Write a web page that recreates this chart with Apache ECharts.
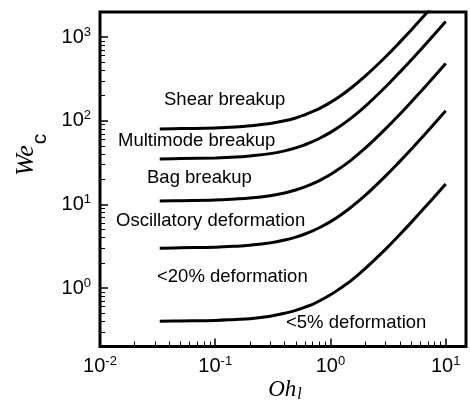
<!DOCTYPE html>
<html>
<head>
<meta charset="utf-8">
<script src="https://cdn.jsdelivr.net/npm/echarts@6/dist/echarts.min.js"></script>
<style>
  html, body { margin: 0; padding: 0; background: #fff; }
  #chart { width: 470px; height: 402px; }
</style>
</head>
<body>
<div id="chart"></div>
<script>
// Oh_l values (x) and critical Weber numbers
const ohValues = [0.033, 0.05, 0.1, 0.15, 0.2, 0.3, 0.4, 0.5, 0.6, 0.7, 0.8, 1, 1.2, 1.5, 2, 3, 4, 5, 7, 10];
const shearWe = [80, 80.7, 82, 84.2, 87, 93, 100, 108, 118, 129, 140, 166, 195, 245, 342, 580, 872, 1210, 2020, 3510];
const multimodeWe = [35, 35.3, 36, 36.8, 38, 40.5, 43.7, 47.4, 51.7, 56.3, 61.4, 72.7, 85.5, 107, 149, 254, 382, 530, 882, 1537];
const bagWe = [11, 11.1, 11.3, 11.6, 11.9, 12.7, 13.7, 14.9, 16.2, 17.7, 19.3, 22.8, 26.9, 33.7, 47, 80, 120, 167, 277, 483];
const oscillatoryWe = [3, 3.03, 3.08, 3.16, 3.25, 3.47, 3.75, 4.07, 4.43, 4.83, 5.26, 6.23, 7.33, 9.2, 12.8, 21.8, 32.7, 45.4, 75.6, 132];
const deform5We = [0.4, 0.404, 0.41, 0.421, 0.43, 0.46, 0.5, 0.54, 0.59, 0.64, 0.7, 0.83, 0.98, 1.22, 1.71, 2.9, 4.36, 6.06, 10.1, 17.6];

// minor tick positions on the log axes
const minorX = [0.02, 0.03, 0.04, 0.05, 0.06, 0.07, 0.08, 0.09,
  0.2, 0.3, 0.4, 0.5, 0.6, 0.7, 0.8, 0.9,
  2, 3, 4, 5, 6, 7, 8, 9];
const minorY = [0.3, 0.4, 0.5, 0.6, 0.7, 0.8, 0.9,
  2, 3, 4, 5, 6, 7, 8, 9,
  20, 30, 40, 50, 60, 70, 80, 90,
  200, 300, 400, 500, 600, 700, 800, 900];

const xMin = 0.01, xMax = 15;
const yMin = 0.2, yMax = 2000;

const regionLabels = [
  { text: 'Shear breakup', x: 164, y: 100 },
  { text: 'Multimode breakup', x: 118, y: 141 },
  { text: 'Bag breakup', x: 147, y: 178 },
  { text: 'Oscillatory deformation', x: 116, y: 221 },
  { text: '<20% deformation', x: 157, y: 277 },
  { text: '<5% deformation', x: 286, y: 323 }
];

const sans = 'Liberation Sans, Arial, Helvetica, sans-serif';
const serif = 'Liberation Serif, Times New Roman, serif';

const powLabel = v => {
  const lg = Math.log10(v);
  const e = Math.round(lg);
  if (Math.abs(lg - e) > 1e-6) return '';
  return '{b|10}{s|' + e + '}';
};
const powRich = {
  b: { fontSize: 20, fontFamily: sans, color: '#000' },
  s: { fontSize: 13, fontFamily: sans, color: '#000', padding: [0, 0, 10, 0] }
};

const chart = echarts.init(document.getElementById('chart'));

const makeLine = (name, values) => ({
  name,
  type: 'line',
  xAxisIndex: 0,
  yAxisIndex: 0,
  data: ohValues.map((x, i) => [x, values[i]]),
  smooth: 0.4,
  showSymbol: false,
  clip: true,
  lineStyle: { color: '#000', width: 3 },
  itemStyle: { color: '#000' },
  silent: true
});

chart.setOption({
  animation: false,
  grid: {
    left: 100, right: 4, top: 12, bottom: 55.5,
    show: true, borderColor: '#000', borderWidth: 3, backgroundColor: 'transparent'
  },
  xAxis: [
    {
      type: 'log', min: xMin, max: xMax, logBase: 10,
      position: 'bottom',
      axisLine: { show: false, onZero: false },
      axisTick: { inside: true, length: 8, lineStyle: { color: '#000', width: 1.5 } },
      axisLabel: { formatter: powLabel, rich: powRich, margin: 8, showMaxLabel: false },
      splitLine: { show: false },
      minorTick: { show: false }
    },
    {
      type: 'value', min: Math.log10(xMin), max: Math.log10(xMax),
      position: 'bottom',
      axisLine: { show: false, onZero: false },
      axisTick: { inside: true, length: 5, lineStyle: { color: '#000', width: 1 }, customValues: minorX.map(v => Math.log10(v)) },
      axisLabel: { show: false },
      splitLine: { show: false }
    }
  ],
  yAxis: [
    {
      type: 'log', min: yMin, max: yMax, logBase: 10,
      position: 'left',
      axisLine: { show: false, onZero: false },
      axisTick: { inside: true, length: 8, lineStyle: { color: '#000', width: 1.5 } },
      axisLabel: { formatter: powLabel, rich: powRich, margin: 9, showMinLabel: false, showMaxLabel: false },
      splitLine: { show: false },
      minorTick: { show: false }
    },
    {
      type: 'value', min: Math.log10(yMin), max: Math.log10(yMax),
      position: 'left',
      axisLine: { show: false, onZero: false },
      axisTick: { inside: true, length: 5, lineStyle: { color: '#000', width: 1 }, customValues: minorY.map(v => Math.log10(v)) },
      axisLabel: { show: false },
      splitLine: { show: false }
    }
  ],
  series: [
    makeLine('Shear breakup', shearWe),
    makeLine('Multimode breakup', multimodeWe),
    makeLine('Bag breakup', bagWe),
    makeLine('Oscillatory deformation', oscillatoryWe),
    makeLine('<5% deformation', deform5We)
  ],
  graphic: [
    ...regionLabels.map(l => ({
      type: 'text', x: l.x, y: l.y, silent: true,
      style: { text: l.text, fontSize: 18.5, fontFamily: sans, fill: '#000', align: 'left', verticalAlign: 'middle' }
    })),
    // x axis title: Oh_l
    {
      type: 'text', x: 285, y: 390, silent: true,
      style: {
        text: '{i|Oh}{sub|l}', align: 'center', verticalAlign: 'middle',
        rich: {
          i: { fontSize: 23, fontFamily: serif, fontStyle: 'italic', fill: '#000' },
          sub: { fontSize: 16, fontFamily: serif, fontStyle: 'italic', fill: '#000', padding: [10, 0, 0, 1] }
        }
      }
    },
    // y axis title: We_c (rotated)
    {
      type: 'text', x: 26, y: 160.5, rotation: Math.PI / 2, silent: true,
      style: { text: 'We', fontSize: 26, fontFamily: serif, fontStyle: 'italic', fill: '#000', align: 'center', verticalAlign: 'middle' }
    },
    {
      type: 'text', x: 40, y: 139, rotation: Math.PI / 2, silent: true,
      style: { text: 'c', fontSize: 21, fontFamily: sans, fill: '#000', align: 'center', verticalAlign: 'middle' }
    }
  ]
});

window.addEventListener('resize', () => chart.resize());
</script>
</body>
</html>
